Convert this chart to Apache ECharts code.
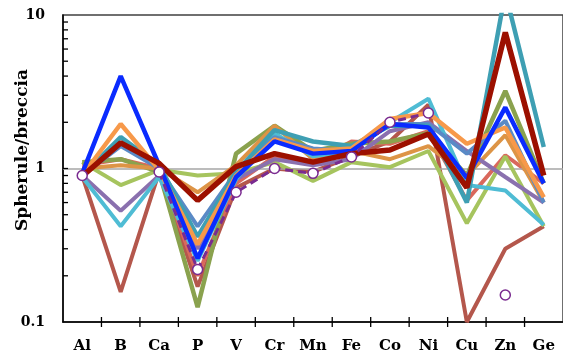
<!DOCTYPE html>
<html>
<head>
<meta charset="utf-8">
<script src="https://cdn.jsdelivr.net/npm/echarts@6/dist/echarts.min.js"></script>
<style>
  html, body { margin: 0; padding: 0; background: #fff; }
  #chart { width: 563px; height: 356px; }
</style>
</head>
<body>
<div id="chart"></div>
<script>
const elements = ["Al", "B", "Ca", "P", "V", "Cr", "Mn", "Fe", "Co", "Ni", "Cu", "Zn", "Ge"];

const brownRed = [0.9, 0.157, 0.95, 0.17, 0.75, 1.0, 0.95, 1.2, 1.5, 2.6, 0.1, 0.3, 0.42];
const salmon = [1.05, 1.15, 1.0, 0.2, 0.8, 1.2, 1.1, 1.5, 1.45, 1.75, 0.62, 1.22, 0.8];
const lightGreen = [1.1, 0.78, 0.98, 0.9, 0.93, 1.1, 0.83, 1.1, 1.02, 1.3, 0.44, 1.2, 0.42];
const olive = [1.1, 1.15, 0.95, 0.125, 1.25, 1.9, 1.3, 1.45, 1.5, 1.7, 0.9, 3.2, 0.8];
const tan = [1.0, 1.05, 1.0, 0.7, 1.05, 1.9, 1.15, 1.3, 1.15, 1.4, 0.9, 1.65, 0.6];
const purple = [0.9, 0.53, 0.9, 0.3, 0.85, 1.15, 1.05, 1.15, 1.75, 2.0, 1.3, 0.88, 0.6];
const cyan = [0.88, 0.42, 0.88, 0.25, 0.85, 1.7, 1.2, 1.3, 2.0, 2.85, 0.78, 0.72, 0.43];
const steelBlue = [0.9, 1.4, 1.0, 0.42, 0.95, 1.6, 1.35, 1.3, 1.95, 1.95, 1.25, 2.05, 0.6];
const teal = [0.9, 1.6, 1.05, 0.36, 0.95, 1.78, 1.5, 1.4, 1.9, 1.9, 0.6, 14, 1.38];
const orange = [0.9, 1.95, 0.98, 0.32, 0.9, 1.55, 1.3, 1.35, 2.1, 2.3, 1.45, 1.85, 0.65];
const blue = [0.93, 4.0, 1.05, 0.26, 0.88, 1.5, 1.25, 1.3, 1.95, 1.85, 0.87, 2.5, 0.8];
const darkRed = [0.89, 1.47, 1.08, 0.62, 1.03, 1.25, 1.1, 1.25, 1.32, 1.68, 0.75, 7.7, 0.9];
const spherule = [0.9, null, 0.95, 0.22, 0.7, 1.0, 0.93, 1.19, 2.0, 2.3, null, 0.15, null];

// tick marks on the log axis
const yTicks = [0.2, 0.3, 0.4, 0.5, 0.6, 0.7, 0.8, 0.9, 1, 2, 3, 4, 5, 6, 7, 8, 9];

const solidLines = [
  { data: brownRed, color: "#b4574c", width: 4 },
  { data: salmon, color: "#d9685c", width: 4 },
  { data: lightGreen, color: "#a6c45e", width: 4 },
  { data: olive, color: "#8aa24e", width: 4.5 },
  { data: tan, color: "#dd9446", width: 4 },
  { data: purple, color: "#8a70ae", width: 4 },
  { data: cyan, color: "#4fbcd4", width: 4 },
  { data: steelBlue, color: "#5a8ac6", width: 4 },
  { data: teal, color: "#3e9fb3", width: 4.5 },
  { data: orange, color: "#f7994a", width: 4.5 },
  { data: blue, color: "#0a2bff", width: 4.5 },
  { data: darkRed, color: "#9c1000", width: 5.5 },
];

const font = "DejaVu Serif";
const chart = echarts.init(document.getElementById("chart"));

const series = solidLines.map((s, i) => ({
  type: "line",
  data: s.data,
  symbol: "none",
  lineStyle: { color: s.color, width: s.width },
  z: 3 + i,
}));

series.unshift({
  type: "line",
  data: [],
  markLine: {
    silent: true,
    symbol: "none",
    label: { show: false },
    lineStyle: { color: "#a6a6a6", width: 1.5, type: "solid" },
    data: [{ yAxis: 1 }],
  },
  z: 2,
});

series.push({
  type: "line",
  data: spherule,
  symbol: "circle",
  symbolSize: 10,
  showAllSymbol: true,
  itemStyle: { color: "#fff", borderColor: "#7a2b90", borderWidth: 1.5 },
  lineStyle: { color: "#7a2b90", width: 3, type: [8, 5] },
  z: 20,
});

const nameText = {
  id: "yname",
  type: "text",
  x: 23,
  y: 150,
  rotation: Math.PI / 2,
  style: {
    text: "Spherule/breccia",
    fill: "#000",
    font: "bold 17px 'DejaVu Serif'",
    align: "center",
    verticalAlign: "middle",
  },
};

chart.setOption({
  animation: false,
  grid: {
    left: 63,
    top: 15,
    width: 503,
    height: 307,
    show: true,
    borderColor: "#404040",
    borderWidth: 1.5,
  },
  graphic: [nameText],
  xAxis: {
    type: "category",
    data: elements,
    axisLine: { lineStyle: { color: "#000", width: 1.5 } },
    axisTick: { show: false },
    axisLabel: {
      color: "#000",
      fontFamily: font,
      fontWeight: "bold",
      fontSize: 15,
      margin: 17,
    },
  },
  yAxis: {
    type: "log",
    logBase: 10,
    min: 0.1,
    max: 10,
    axisLine: { show: true, lineStyle: { color: "#000", width: 1.5 } },
    axisTick: { show: false },
    splitLine: { show: false },
    axisLabel: {
      color: "#000",
      fontFamily: font,
      fontWeight: "bold",
      fontSize: 14,
      margin: 18,
      formatter: (v) => String(v),
    },
  },
  series: series,
});

// ticks placed from the axes' own scales
const x0 = chart.convertToPixel({ xAxisIndex: 0 }, 0);
const band = chart.convertToPixel({ xAxisIndex: 0 }, 1) - x0;
const axisLeft = x0 - band / 2;
const axisBottom = chart.convertToPixel({ yAxisIndex: 0 }, 0.1);
const tickStyle = { stroke: "#000", lineWidth: 1.3 };

const ticks = [nameText];
yTicks.forEach((v, i) => {
  const y = chart.convertToPixel({ yAxisIndex: 0 }, v);
  ticks.push({
    id: "yt" + i,
    type: "line",
    z: 50,
    silent: true,
    shape: { x1: axisLeft, y1: y, x2: axisLeft + 5, y2: y },
    style: tickStyle,
  });
});
elements.forEach((el, i) => {
  if (i === 0) return;
  const x = chart.convertToPixel({ xAxisIndex: 0 }, i) - band / 2;
  ticks.push({
    id: "xt" + i,
    type: "line",
    z: 50,
    silent: true,
    shape: { x1: x, y1: axisBottom - 5, x2: x, y2: axisBottom + 5 },
    style: tickStyle,
  });
});

chart.setOption({ graphic: ticks });
</script>
</body>
</html>
